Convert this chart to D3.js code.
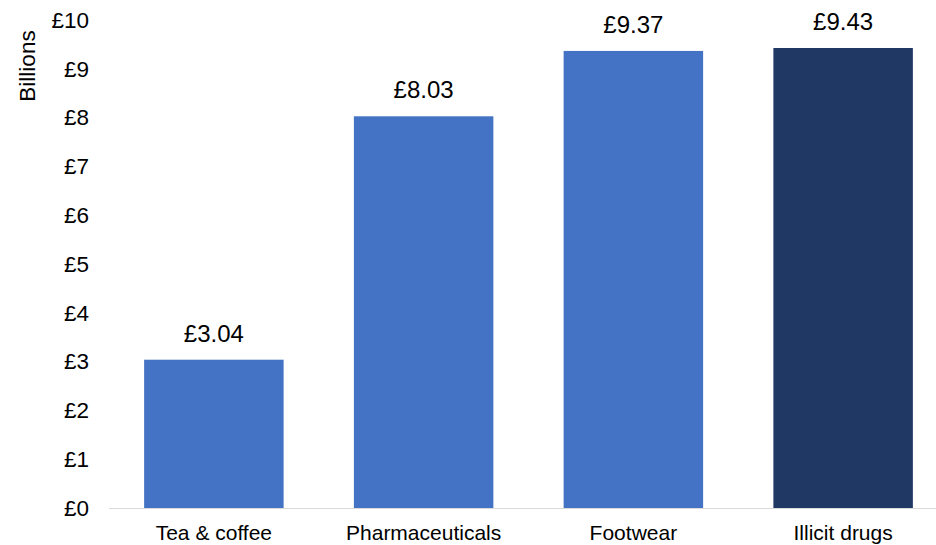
<!DOCTYPE html>
<html><head><meta charset="utf-8">
<script src="https://cdn.jsdelivr.net/npm/d3@7"></script>
<style>html,body{margin:0;padding:0;background:#fff;}svg{display:block;font-family:"Liberation Sans",Arial,sans-serif;}</style>
</head><body>
<svg id="chart" width="936" height="545"></svg>
<script>
const categories = ["Tea & coffee", "Pharmaceuticals", "Footwear", "Illicit drugs"];
const values = [3.04, 8.03, 9.37, 9.43];
const valueLabels = ["£3.04", "£8.03", "£9.37", "£9.43"];
const barColors = ["#4472C4", "#4472C4", "#4472C4", "#203864"];
const yTicks = [0,1,2,3,4,5,6,7,8,9,10];
const yTickLabels = ["£0","£1","£2","£3","£4","£5","£6","£7","£8","£9","£10"];
const yTitle = "Billions";

const svg = d3.select("#chart");
const x0 = 109, x1 = 948, yBase = 508, yTop = 20.2;
const x = d3.scaleBand().domain(categories).range([x0, x1]).paddingInner(0.335).paddingOuter(0.1675);
const y = d3.scaleLinear().domain([0, 10]).range([yBase, yTop]);

svg.selectAll("rect.bar").data(values).enter().append("rect")
  .attr("class","bar")
  .attr("x",(d,i)=>x(categories[i]))
  .attr("width",x.bandwidth())
  .attr("y",d=>y(d))
  .attr("height",d=>y(0)-y(d))
  .attr("fill",(d,i)=>barColors[i]);

// x axis line
svg.append("line").attr("x1",x0).attr("x2",936).attr("y1",y(0)+0.5).attr("y2",y(0)+0.5)
  .attr("stroke","#d9d9d9").attr("stroke-width",1);

// y tick labels
const yAxis = d3.axisLeft(y).tickValues(yTicks).tickFormat((d,i)=>yTickLabels[i]).tickSize(0).tickPadding(0);
const gy = svg.append("g").attr("transform",`translate(${89},0)`).call(yAxis);
gy.select(".domain").remove();
gy.selectAll("text").attr("font-size",22.5).attr("fill","#000").attr("font-family","Liberation Sans, Arial, sans-serif");

// x category labels
const xAxis = d3.axisBottom(x).tickSize(0).tickPadding(0);
const gx = svg.append("g").attr("transform",`translate(0,${y(0)})`).call(xAxis);
gx.select(".domain").remove();
gx.selectAll("text").attr("font-size",21).attr("fill","#000").attr("dy",null).attr("y",32).attr("font-family","Liberation Sans, Arial, sans-serif");

// value labels
svg.selectAll("text.val").data(values).enter().append("text")
  .attr("class","val")
  .attr("x",(d,i)=>x(categories[i])+x.bandwidth()/2)
  .attr("y",d=>y(d)-18)
  .attr("text-anchor","middle")
  .attr("font-size",24)
  .attr("fill","#000")
  .text((d,i)=>valueLabels[i]);

// y title
svg.append("text").attr("transform","translate(35,66) rotate(-90)")
  .attr("text-anchor","middle").attr("font-size",22.5).attr("fill","#000").text(yTitle);
</script>
</body></html>
